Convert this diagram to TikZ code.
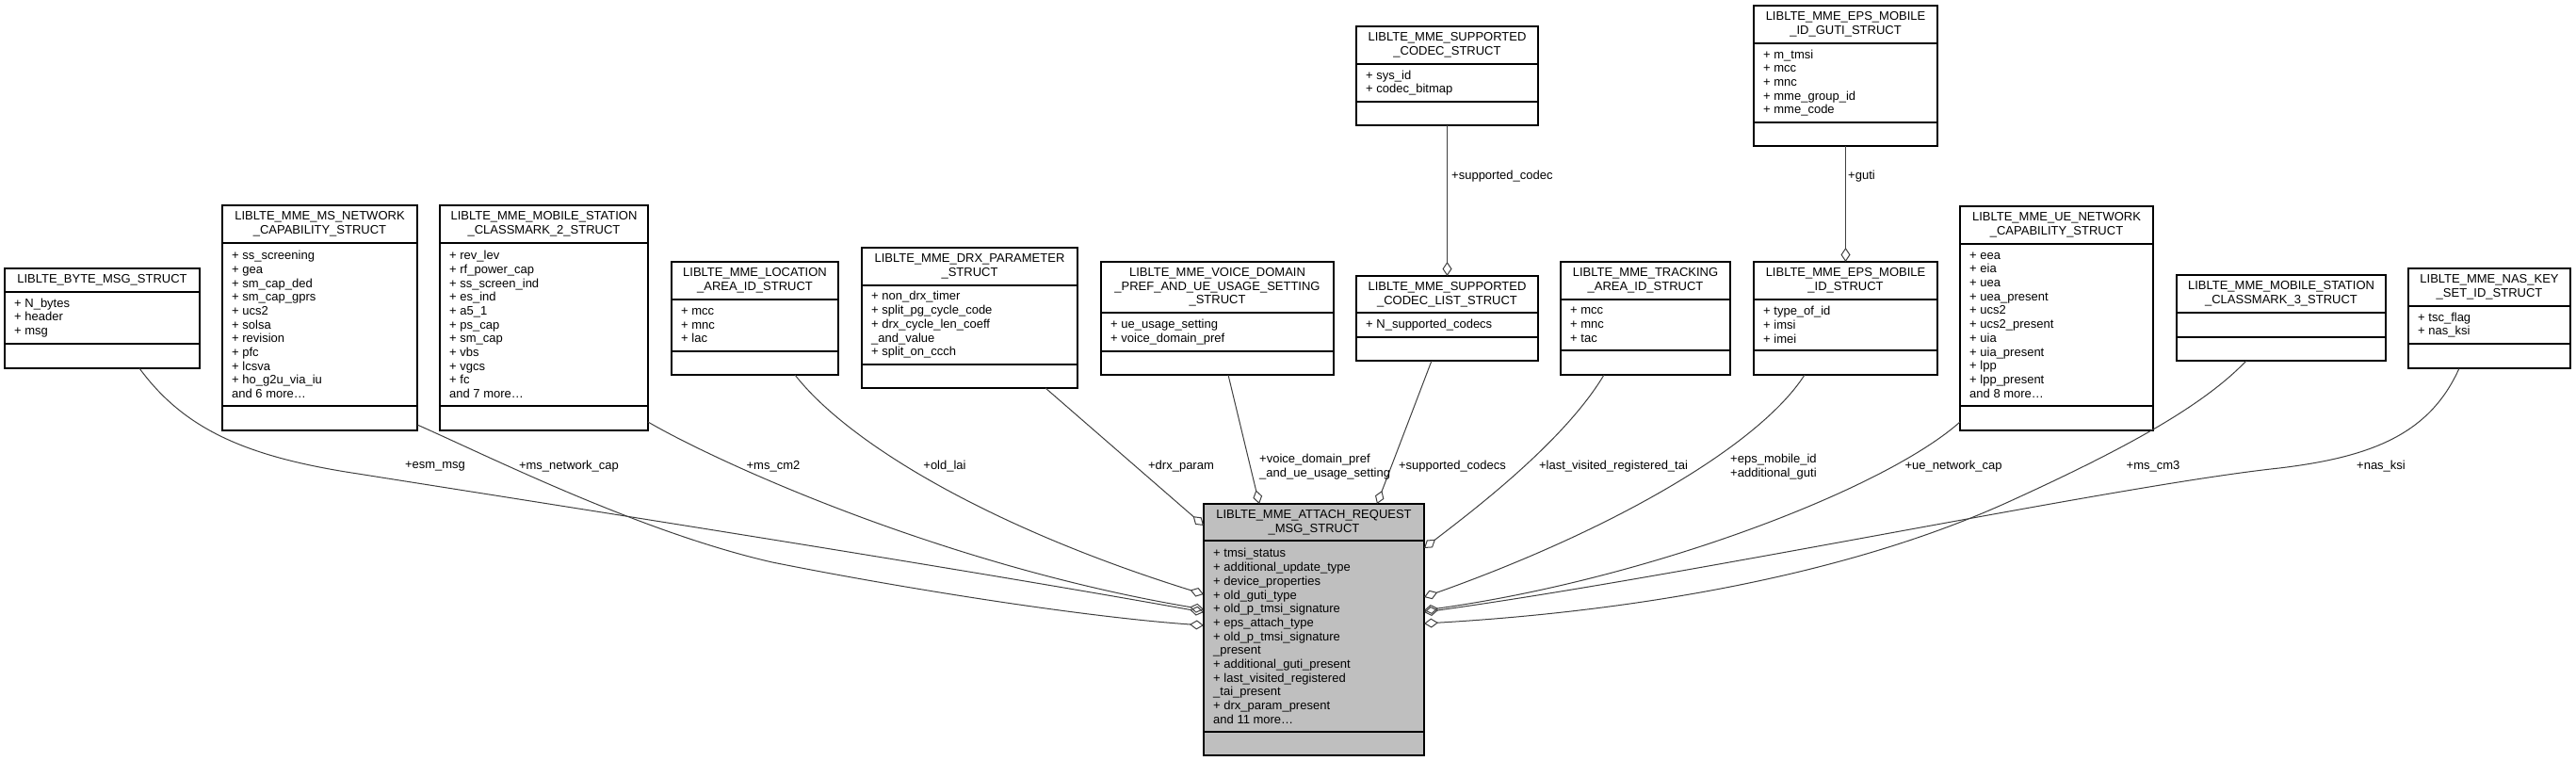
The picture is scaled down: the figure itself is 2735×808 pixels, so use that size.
\documentclass[tikz,border=0pt]{standalone}
\usepackage{fontspec}
\setmainfont{Liberation Sans}
\usetikzlibrary{arrows.meta}
\definecolor{edgegray}{HTML}{404040}
\definecolor{maingray}{HTML}{BFBFBF}
\newcommand\clsfill{white}
\newcommand\umlcls[9]{%
  \node[clsbox, fill=\clsfill, minimum width={#4-#2}, minimum height={#5-#3}] (#1) at ({(#2+#4)/2},{(#3+#5)/2}) {};
  \draw[clsline] (#2,#6) -- (#4,#6) (#2,#7) -- (#4,#7);
  \node[clstitle] (#1-t) at ({(#2+#4)/2},{(#3+#6)/2}) {#8};
  \node[clsattr] (#1-a) at ({#2+10},{(#6+#7)/2}) {#9};
}
\tikzset{
  clsbox/.style={draw=black, line width=1.5pt, inner sep=0pt, outer sep=0pt},
  clsline/.style={draw=black, line width=1.5pt},
  clstitle/.style={font=\fontsize{13}{14.7}\selectfont, align=center, inner sep=0pt},
  clsattr/.style={font=\fontsize{13}{14.7}\selectfont, align=left, inner sep=0pt, anchor=west},
  aggedge/.style={draw=edgegray, line width=1pt, -{Diamond[open,length=15pt,width=10pt]}},
  plainedge/.style={draw=edgegray, line width=1pt},
  elabel/.style={font=\fontsize{13}{14.7}\selectfont, inner sep=0pt, align=left},
}
\begin{document}
\begin{tikzpicture}[x=1pt,y=-1pt]
\fill[white] (0,0) rectangle (2735,808);
\useasboundingbox (0,0) rectangle (2735,808);

\umlcls{byte}{5}{285}{212}{391}{310}{365}{LIBLTE\_BYTE\_MSG\_STRUCT}{+ N\_bytes\\+ header\\+ msg}
\umlcls{msnet}{236}{218}{443}{457}{258}{431}{LIBLTE\_MME\_MS\_NETWORK\\\_CAPABILITY\_STRUCT}{+ ss\_screening\\+ gea\\+ sm\_cap\_ded\\+ sm\_cap\_gprs\\+ ucs2\\+ solsa\\+ revision\\+ pfc\\+ lcsva\\+ ho\_g2u\_via\_iu\\and 6 more…}
\umlcls{cmtwo}{467}{218}{688}{457}{258}{431}{LIBLTE\_MME\_MOBILE\_STATION\\\_CLASSMARK\_2\_STRUCT}{+ rev\_lev\\+ rf\_power\_cap\\+ ss\_screen\_ind\\+ es\_ind\\+ a5\_1\\+ ps\_cap\\+ sm\_cap\\+ vbs\\+ vgcs\\+ fc\\and 7 more…}
\umlcls{loc}{713}{278}{890}{398}{318}{373}{LIBLTE\_MME\_LOCATION\\\_AREA\_ID\_STRUCT}{+ mcc\\+ mnc\\+ lac}
\umlcls{drx}{915}{263}{1144}{412}{303}{387}{LIBLTE\_MME\_DRX\_PARAMETER\\\_STRUCT}{+ non\_drx\_timer\\+ split\_pg\_cycle\_code\\+ drx\_cycle\_len\_coeff\\\_and\_value\\+ split\_on\_ccch}
\umlcls{voice}{1169}{278}{1416}{398}{332}{373}{LIBLTE\_MME\_VOICE\_DOMAIN\\\_PREF\_AND\_UE\_USAGE\_SETTING\\\_STRUCT}{+ ue\_usage\_setting\\+ voice\_domain\_pref}
\umlcls{codec}{1440}{28}{1633}{133}{68}{108}{LIBLTE\_MME\_SUPPORTED\\\_CODEC\_STRUCT}{+ sys\_id\\+ codec\_bitmap}
\umlcls{clist}{1440}{293}{1633}{383}{332}{358}{LIBLTE\_MME\_SUPPORTED\\\_CODEC\_LIST\_STRUCT}{+ N\_supported\_codecs}
\umlcls{track}{1657}{278}{1837}{398}{318}{372}{LIBLTE\_MME\_TRACKING\\\_AREA\_ID\_STRUCT}{+ mcc\\+ mnc\\+ tac}
\umlcls{eps}{1862}{278}{2057}{398}{318}{372}{LIBLTE\_MME\_EPS\_MOBILE\\\_ID\_STRUCT}{+ type\_of\_id\\+ imsi\\+ imei}
\umlcls{guti}{1862}{6}{2057}{155}{46}{130}{LIBLTE\_MME\_EPS\_MOBILE\\\_ID\_GUTI\_STRUCT}{+ m\_tmsi\\+ mcc\\+ mnc\\+ mme\_group\_id\\+ mme\_code}
\umlcls{uenet}{2081}{219}{2286}{457}{259}{431}{LIBLTE\_MME\_UE\_NETWORK\\\_CAPABILITY\_STRUCT}{+ eea\\+ eia\\+ uea\\+ uea\_present\\+ ucs2\\+ ucs2\_present\\+ uia\\+ uia\_present\\+ lpp\\+ lpp\_present\\and 8 more…}
\umlcls{cmthree}{2311}{292}{2533}{383}{332}{358}{LIBLTE\_MME\_MOBILE\_STATION\\\_CLASSMARK\_3\_STRUCT}{}
\umlcls{nas}{2557}{285}{2729}{391}{325}{365}{LIBLTE\_MME\_NAS\_KEY\\\_SET\_ID\_STRUCT}{+ tsc\_flag\\+ nas\_ksi}
\renewcommand\clsfill{maingray}
\umlcls{main}{1278}{535}{1512}{802}{574}{777}{LIBLTE\_MME\_ATTACH\_REQUEST\\\_MSG\_STRUCT}{+ tmsi\_status\\+ additional\_update\_type\\+ device\_properties\\+ old\_guti\_type\\+ old\_p\_tmsi\_signature\\+ eps\_attach\_type\\+ old\_p\_tmsi\_signature\\\_present\\+ additional\_guti\_present\\+ last\_visited\_registered\\\_tai\_present\\+ drx\_param\_present\\and 11 more…}

% connectors into the main struct (left side)
\draw[aggedge] ([xshift=143pt]byte.south west) .. controls (195,455) and (260,485) .. (380,503) .. controls (550,530) and (1000,600) .. ([yshift=-115pt]main.north west);
\draw[aggedge] ([yshift=6pt]msnet.south east) .. controls (520,485) and (680,565) .. (820,597) .. controls (960,625) and (1150,655) .. ([yshift=-129pt]main.north west);
\draw[aggedge] ([yshift=9pt]cmtwo.south east) .. controls (760,490) and (1000,600) .. ([yshift=-112pt]main.north west);
\draw[aggedge] ([xshift=131pt]loc.south west) .. controls (900,470) and (1050,560) .. ([yshift=-96pt]main.north west);
\draw[aggedge] ([xshift=195pt]drx.south west) -- ([yshift=-23pt]main.north west);
% top
\draw[aggedge] ([xshift=135pt]voice.south west) -- ([xshift=59pt]main.north west);
\draw[aggedge] ([xshift=80pt]clist.south west) -- ([xshift=184pt]main.north west);
% right side
\draw[aggedge] ([xshift=46pt]track.south west) .. controls (1660,470) and (1560,545) .. ([yshift=-47pt]main.north east);
\draw[aggedge] ([xshift=54pt]eps.south west) .. controls (1870,470) and (1720,560) .. ([yshift=-99pt]main.north east);
\draw[aggedge] ([yshift=9pt]uenet.south west) .. controls (2000,520) and (1750,615) .. ([yshift=-113pt]main.north east);
\draw[aggedge] ([xshift=54pt]nas.south west) .. controls (2580,460) and (2520,485) .. (2420,497) .. controls (2250,515) and (1800,610) .. ([yshift=-115pt]main.north east);
\draw[aggedge] ([xshift=74pt]cmthree.south west) .. controls (2340,430) and (2260,475) .. (2130,534) .. controls (1950,615) and (1720,650) .. ([yshift=-127pt]main.north east);
% vertical ones
\draw[aggedge] (codec.south) -- (clist.north);
\draw[aggedge] (guti.south) -- (eps.north);

% labels
\node[elabel] (l-esm) at (462,495) {+esm\_msg};
\node[elabel] (l-msnet) at (604,495) {+ms\_network\_cap};
\node[elabel] (l-cm2) at (821,495) {+ms\_cm2};
\node[elabel] (l-lai) at (1003,495) {+old\_lai};
\node[elabel] (l-drx) at (1254,495) {+drx\_param};
\node[elabel, anchor=west] (l-voice) at (1337,495.5) {+voice\_domain\_pref\\\_and\_ue\_usage\_setting};
\node[elabel] (l-codecs) at (1542,495) {+supported\_codecs};
\node[elabel] (l-tai) at (1713,495) {+last\_visited\_registered\_tai};
\node[elabel, anchor=west] (l-eps) at (1837,495.5) {+eps\_mobile\_id\\+additional\_guti};
\node[elabel] (l-uenet) at (2074,495) {+ue\_network\_cap};
\node[elabel] (l-cm3) at (2286,495) {+ms\_cm3};
\node[elabel] (l-nas) at (2528,495) {+nas\_ksi};
\node[elabel, anchor=west] (l-codec) at (1541,187) {+supported\_codec};
\node[elabel, anchor=west] (l-guti) at (1962,187) {+guti};
\end{tikzpicture}
\end{document}
